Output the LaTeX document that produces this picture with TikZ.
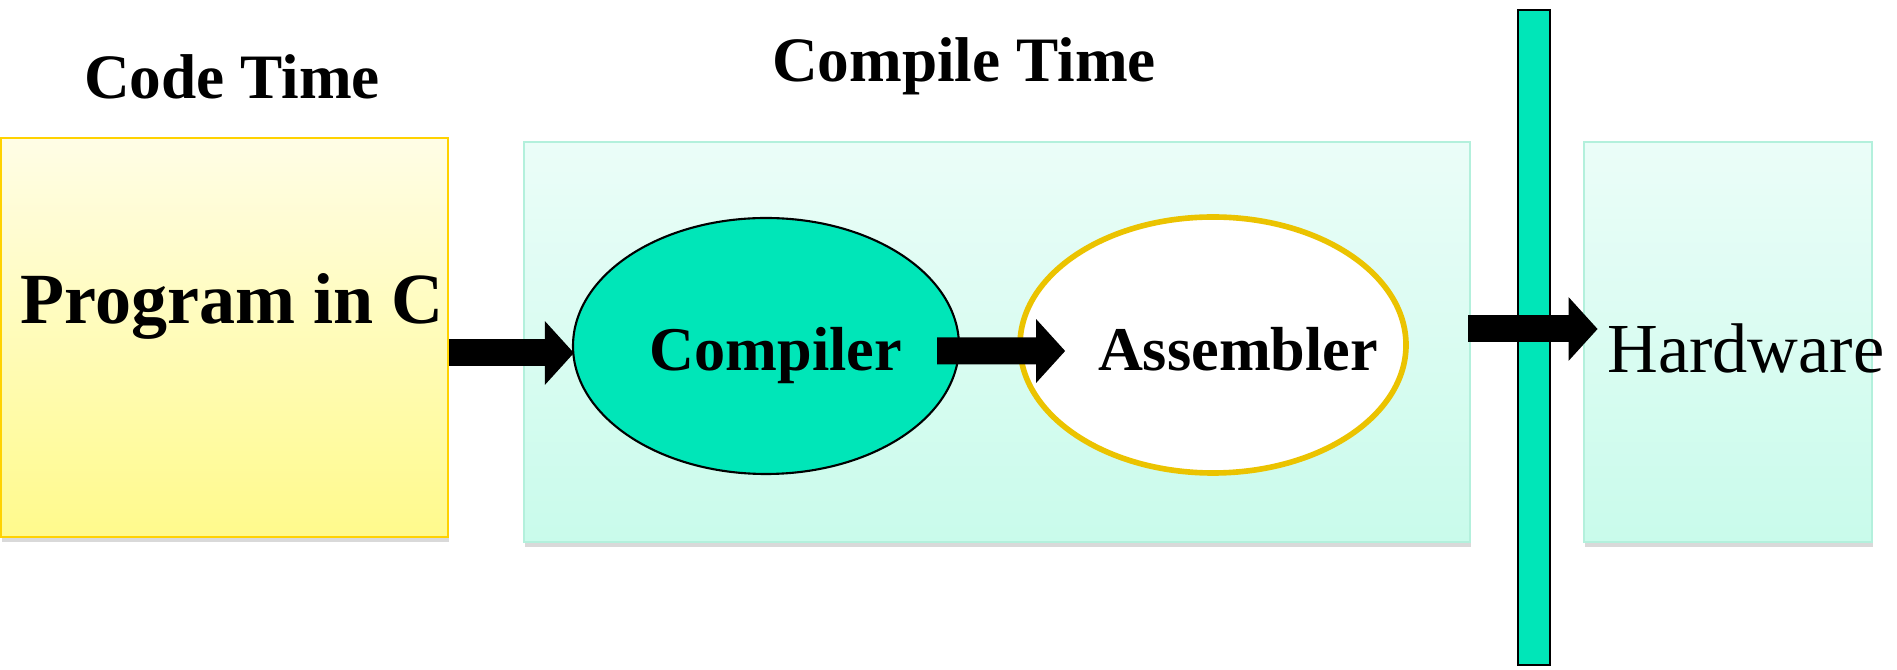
\documentclass[tikz,border=0pt]{standalone}
\usepackage{fontspec}
\setmainfont{Liberation Serif}
\usepackage{xcolor}
\usetikzlibrary{arrows.meta, positioning, shapes.geometric, shadows}
\definecolor{turq}{HTML}{00E6B8}
\definecolor{goldline}{HTML}{EBC300}
\definecolor{yellowline}{HTML}{FFD200}
\definecolor{yellowtop}{HTML}{FFFDE6}
\definecolor{yellowbot}{HTML}{FFFA8C}
\definecolor{cyanline}{HTML}{B3F0DC}
\definecolor{cyantop}{HTML}{EBFDF8}
\definecolor{cyanbot}{HTML}{C9FBEB}
\def\boxH{4cm}
\def\arrowW{0.27cm}

\begin{document}
\begin{tikzpicture}[
    stage/.style={rectangle, line width=0.8pt, minimum height=\boxH,
        draw=cyanline, top color=cyantop, bottom color=cyanbot,
        drop shadow={shadow xshift=0.4pt, shadow yshift=-1.5pt, opacity=0.3}},
    blockarrow/.style={line width=\arrowW, -{Triangle[length=0.29cm,width=0.62cm]}},
    title/.style={anchor=base, font=\bfseries\fontsize{18}{20}\selectfont},
    tool/.style={ellipse, minimum width=3.86cm, minimum height=2.56cm, inner sep=0pt}
]
\useasboundingbox (0,0) rectangle (18.97,6.70);

% source side
\node[stage, draw=yellowline, top color=yellowtop, bottom color=yellowbot,
      minimum width=4.47cm, minimum height=3.99cm] (prog) at (2.245,3.325) {};
\node[anchor=base, font=\bfseries\fontsize{20.5}{22}\selectfont] (progtext) at (2.32,3.46) {Program in C};
\node[title] (codetitle) at (2.32,5.71) {Code Time};

% compile stage
\node[stage, minimum width=9.46cm] (compile) at (9.97,3.28) {};
\node[title] (compiletitle) at (9.64,5.88) {Compile Time};
\node[tool, draw=black, line width=0.6pt, fill=turq] (compiler) at (7.66,3.24) {};
\node[tool, draw=goldline, line width=1.6pt, fill=white] (assembler) at (12.13,3.25) {};
\node[anchor=base, font=\bfseries\fontsize{17.7}{20}\selectfont] (comptext) at (7.76,2.99) {Compiler};
\node[anchor=base, font=\bfseries\fontsize{17.7}{20}\selectfont] (asmtext) at (12.38,2.99) {Assembler};

% hardware side
\node[stage, minimum width=2.88cm] (hw) at (17.28,3.28) {};
\node[draw=black, line width=0.6pt, fill=turq, minimum width=0.32cm,
      minimum height=6.55cm, inner sep=0pt] (bar) at (15.34,3.325) {};
\node[anchor=base, font=\fontsize{20}{22}\selectfont] (hwtext) at (17.46,2.97) {Hardware};

% arrows
\coordinate (in1) at ([xshift=0.02cm,yshift=-0.07cm]compiler.west);
\draw[blockarrow] (prog.east |- in1) -- (in1);
\draw[blockarrow] ([xshift=-0.23cm,yshift=-0.05cm]compiler.east)
    -- ([xshift=0.48cm,yshift=-0.06cm]assembler.west);
\draw[blockarrow] ([xshift=-0.03cm,yshift=0.13cm]compile.east)
    -- ([xshift=0.15cm,yshift=0.13cm]hw.west);
\end{tikzpicture}
\end{document}
